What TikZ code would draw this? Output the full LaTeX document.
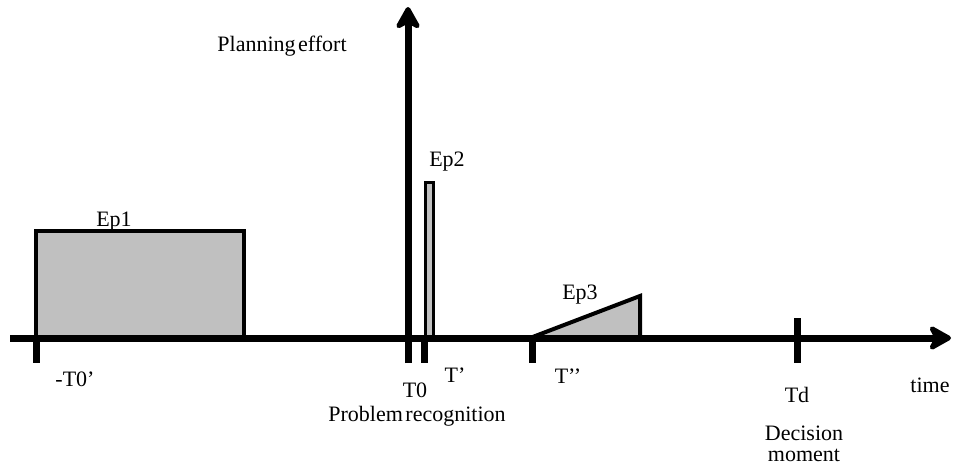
\documentclass[tikz,border=0pt]{standalone}
\usepackage{fontspec}
\setmainfont{Liberation Serif}
\usetikzlibrary{arrows.meta,positioning,calc}
\definecolor{ink}{HTML}{000000}
\definecolor{effort}{HTML}{C0C0C0}

\tikzset{
  axisline/.style={line width=7pt, draw=ink},
  tickline/.style={line width=7pt, draw=ink},
  effortbox/.style={fill=effort, draw=ink, line width=4pt},
  lbl/.style={font=\fontsize{22}{21}\selectfont, text=ink, inner sep=0pt},
  tightlbl/.style={lbl, execute at begin node={\spaceskip=2.5pt\relax}},
  bigtip/.style={-{Stealth[length=27pt,width=30pt,inset=8pt,round,line width=6pt]}}
}

\begin{document}
\begin{tikzpicture}[x=1pt,y=-1pt]
  \useasboundingbox (0,0) rectangle (953,471);

  % axes end points and tick positions
  \coordinate (origin) at (10,338);
  \coordinate (timeend) at (951,338);
  \coordinate (effbase) at (408,363);
  \coordinate (efftop) at (408,7);
  \coordinate (tA) at (36,338);
  \coordinate (tB) at (424.5,338);
  \coordinate (tC) at (532,338);
  \coordinate (tD) at (797,318);

  % planning efforts
  \draw[effortbox] (36,231) rectangle (244,338);
  \draw[effortbox, line width=3pt] (425.5,338) rectangle (433.5,182.5);
  \draw[effortbox, line join=miter] (530,338) -- (640,296) -- (640,338) -- cycle;

  % axes
  \draw[axisline, bigtip] (origin) -- (timeend);
  \draw[axisline, bigtip] (effbase) -- (efftop);

  % ticks
  \draw[tickline] (tA) -- (tA |- effbase);
  \draw[tickline] (tB) -- (tB |- effbase);
  \draw[tickline] (tC) -- (tC |- effbase);
  \draw[tickline] (tD) -- (tD |- effbase);

  % labels
  \node[tightlbl] (effortlbl) at (282,46) {Planning effort};
  \node[lbl] (ep1) at (114,222) {Ep1};
  \node[lbl] (ep2) at (447,162) {Ep2};
  \node[lbl] (ep3) at (580,295) {Ep3};
  \node[lbl] (t0neg) at (75,379) {-T0’};
  \node[lbl] (t0) at (415,390) {T0};
  \node[lbl] (tprime) at (455,375) {T’};
  \node[lbl] (tsecond) at (568,376) {T’’};
  \node[lbl] (td) at (797,395) {Td};
  \node[lbl] (timelbl) at (930,385) {time};
  \node[tightlbl] (recog) at (417,416) {Problem recognition};
  \node[lbl, align=center] (decision) at (804,444) {Decision\\moment};
\end{tikzpicture}
\end{document}
